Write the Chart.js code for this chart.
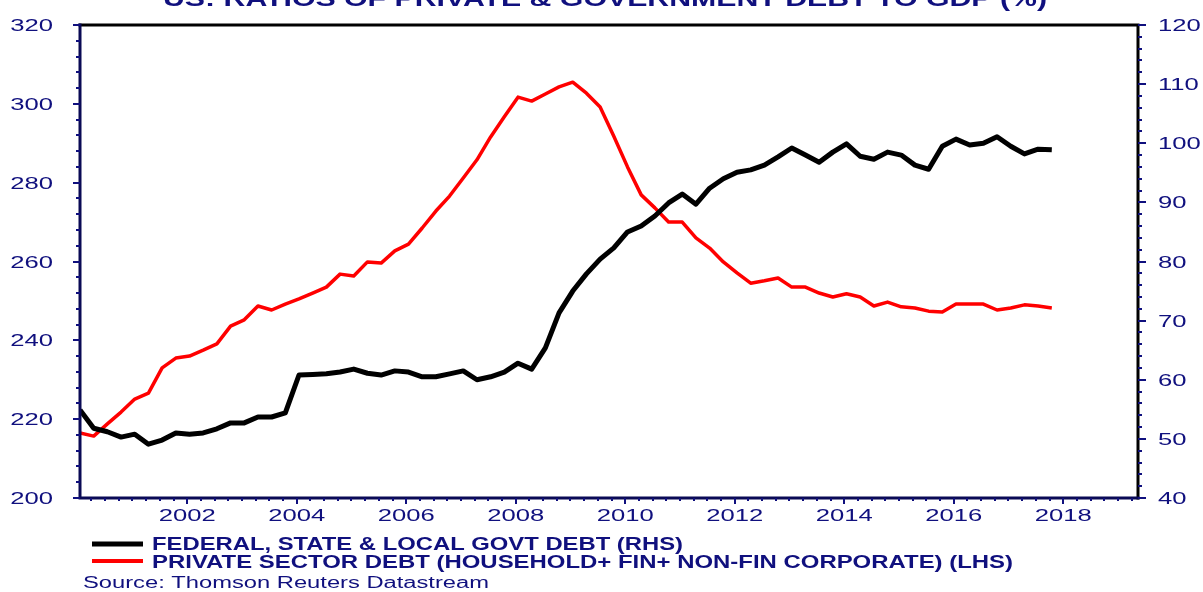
<!DOCTYPE html>
<html><head><meta charset="utf-8">
<script src="https://cdn.jsdelivr.net/npm/chart.js@4/dist/chart.umd.min.js"></script>
<style>html,body{margin:0;padding:0;background:#fff;overflow:hidden}#wrap{width:1203px;height:592px;position:relative}</style>
</head><body><div id="wrap"><canvas id="c" width="1203" height="592"></canvas></div>
<script>
const titleText = "US: RATIOS OF PRIVATE & GOVERNMENT DEBT TO GDP (%)";
const sourceText = "Source: Thomson Reuters Datastream";
const govtLabel = "FEDERAL, STATE & LOCAL GOVT DEBT (RHS)";
const privLabel = "PRIVATE SECTOR DEBT (HOUSEHOLD+ FIN+ NON-FIN CORPORATE) (LHS)";

const quarters = [
"2000Q1","2000Q2","2000Q3","2000Q4","2001Q1","2001Q2","2001Q3","2001Q4",
"2002Q1","2002Q2","2002Q3","2002Q4","2003Q1","2003Q2","2003Q3","2003Q4",
"2004Q1","2004Q2","2004Q3","2004Q4","2005Q1","2005Q2","2005Q3","2005Q4",
"2006Q1","2006Q2","2006Q3","2006Q4","2007Q1","2007Q2","2007Q3","2007Q4",
"2008Q1","2008Q2","2008Q3","2008Q4","2009Q1","2009Q2","2009Q3","2009Q4",
"2010Q1","2010Q2","2010Q3","2010Q4","2011Q1","2011Q2","2011Q3","2011Q4",
"2012Q1","2012Q2","2012Q3","2012Q4","2013Q1","2013Q2","2013Q3","2013Q4",
"2014Q1","2014Q2","2014Q3","2014Q4","2015Q1","2015Q2","2015Q3","2015Q4",
"2016Q1","2016Q2","2016Q3","2016Q4","2017Q1","2017Q2","2017Q3","2017Q4"];

// Federal, state & local govt debt, % of GDP (right axis)
const govtDebt = [54.9,51.8,51.2,50.3,50.8,49.1,49.8,51.0,50.8,51.0,51.7,52.7,52.7,53.7,
53.7,54.4,60.8,60.9,61.0,61.3,61.8,61.1,60.8,61.5,61.3,60.5,60.5,61.0,61.5,60.0,60.5,61.3,62.8,61.8,65.4,71.3,
75.0,77.9,80.4,82.3,85.0,86.0,87.7,89.9,91.4,89.7,92.4,94.0,95.1,95.5,96.3,97.7,99.2,
98.0,96.8,98.5,99.9,97.8,97.3,98.5,98.0,96.3,95.6,99.5,100.7,99.7,100.0,101.1,99.5,98.2,99.0,98.9];

// Private sector debt, % of GDP (left axis)
const privateDebt = [216.5,215.7,218.8,221.8,225.1,226.6,233.0,235.5,236.0,237.5,239.1,243.6,245.2,248.7,247.7,249.2,250.5,252.0,253.5,256.8,256.3,259.9,259.6,262.7,264.4,
268.5,272.8,276.6,281.2,285.8,291.6,296.7,301.7,300.7,302.5,304.3,305.5,302.7,299.2,291.8,284.0,276.9,273.6,270.0,270.0,266.0,263.4,
259.9,257.1,254.5,255.1,255.8,253.5,253.5,252.0,251.0,251.8,251.0,248.7,249.7,248.5,248.2,247.4,247.2,249.2,249.2,249.2,247.7,248.2,249.0,248.7,248.2];

const leftTicks = [200,220,240,260,280,300,320];
const rightTicks = [40,50,60,70,80,90,100,110,120];
const yearTicks = [2002,2004,2006,2008,2010,2012,2014,2016,2018];

// quarterly observations are dated mid-January/April/July/October
function quarterToYear(q){ const y=+q.slice(0,4), n=+q.slice(5); return y + (n-1)/4 + 1/24; }
const xs = quarters.map(quarterToYear);

const NAVY = '#10107e';
const FONT = '"Liberation Sans", Arial, sans-serif';

function stretchText(ctx, text, x, y, align, sx){
  ctx.save(); ctx.translate(x,y); ctx.scale(sx,1); ctx.textAlign=align; ctx.fillText(text,0,0); ctx.restore();
}
function fitText(ctx, text, x, y, width){
  const w = ctx.measureText(text).width;
  stretchText(ctx, text, x, y, 'left', width / w);
}

const decor = {
  id:'decor',
  afterDraw(chart){
    const ctx = chart.ctx, a = chart.chartArea;
    const sx = chart.scales.x, yl = chart.scales.y, yr = chart.scales.y1;
    ctx.save();
    // frame
    ctx.lineCap='square';
    ctx.lineWidth = 3;
    ctx.strokeStyle = '#000';
    ctx.beginPath(); ctx.moveTo(a.left, a.top); ctx.lineTo(a.right, a.top); ctx.lineTo(a.right, a.bottom); ctx.stroke();
    ctx.strokeStyle = '#0a0a55';
    ctx.beginPath(); ctx.moveTo(a.left, a.top); ctx.lineTo(a.left, a.bottom); ctx.lineTo(a.right, a.bottom); ctx.stroke();
    // ticks
    ctx.lineCap='butt';
    ctx.lineWidth = 2; ctx.strokeStyle = NAVY;
    ctx.beginPath();
    for (let v=200; v<=320; v+=4){ const y=Math.round(yl.getPixelForValue(v)); const len = v%20===0?7:4; ctx.moveTo(a.left-len,y); ctx.lineTo(a.left,y); }
    for (let v=40; v<=120; v+=2){ const y=Math.round(yr.getPixelForValue(v)); const len = v%10===0?8:4; ctx.moveTo(a.right,y); ctx.lineTo(a.right+len,y); }
    for (let t=2000.25; t<=sx.max; t+=0.25){ const x=Math.round(sx.getPixelForValue(t)); const major = yearTicks.includes(Math.round(t)) && Math.abs(t-Math.round(t))<1e-6; const len = major?6:3; ctx.moveTo(x,a.bottom); ctx.lineTo(x,a.bottom+len); }
    ctx.stroke();
    // tick labels
    ctx.fillStyle = NAVY;
    ctx.font = '17px ' + FONT;
    ctx.textBaseline = 'alphabetic';
    const k = 57 / ctx.measureText('2002').width;
    leftTicks.forEach(v=>stretchText(ctx, String(v), 53, yl.getPixelForValue(v)+6, 'right', k));
    rightTicks.forEach(v=>stretchText(ctx, String(v), 1158, yr.getPixelForValue(v)+6, 'left', k));
    yearTicks.forEach(v=>stretchText(ctx, String(v), sx.getPixelForValue(v), 521, 'center', k));
    // title (top clipped by page edge as in original)
    ctx.font = 'bold 22px ' + FONT;
    fitText(ctx, titleText, 163, 6, 884);
    // legend
    ctx.lineWidth = 5; ctx.strokeStyle = '#000';
    ctx.beginPath(); ctx.moveTo(92,544); ctx.lineTo(143,544); ctx.stroke();
    ctx.lineWidth = 4; ctx.strokeStyle = '#ff0000';
    ctx.beginPath(); ctx.moveTo(92,561); ctx.lineTo(143,561); ctx.stroke();
    ctx.font = 'bold 18px ' + FONT;
    ctx.fillStyle = NAVY;
    fitText(ctx, govtLabel, 152, 549.5, 531);
    fitText(ctx, privLabel, 152, 567.5, 861);
    ctx.font = '16px ' + FONT;
    fitText(ctx, sourceText, 83, 588, 406);
    ctx.restore();
  }
};

new Chart(document.getElementById('c'), {
  type:'line',
  data:{
    datasets:[
      { label: govtLabel, data: xs.map((x,i)=>({x, y: govtDebt[i]})), yAxisID:'y1', borderColor:'#000', borderWidth:5, pointRadius:0, tension:0, borderJoinStyle:'round' },
      { label: privLabel, data: xs.map((x,i)=>({x, y: privateDebt[i]})), yAxisID:'y', borderColor:'#ff0000', borderWidth:3.5, pointRadius:0, tension:0, borderJoinStyle:'round' }
    ]
  },
  options:{
    responsive:false, animation:false, devicePixelRatio:1,
    layout:{ padding:{ left:80, right:65, top:25, bottom:94 } },
    scales:{
      x:{ type:'linear', min:2000 + 1/24, max:2019.366, display:false },
      y:{ position:'left', min:200, max:320, display:false },
      y1:{ position:'right', min:40, max:120, display:false }
    },
    plugins:{ legend:{display:false}, tooltip:{enabled:false} }
  },
  plugins:[decor]
});
</script>
</body></html>
